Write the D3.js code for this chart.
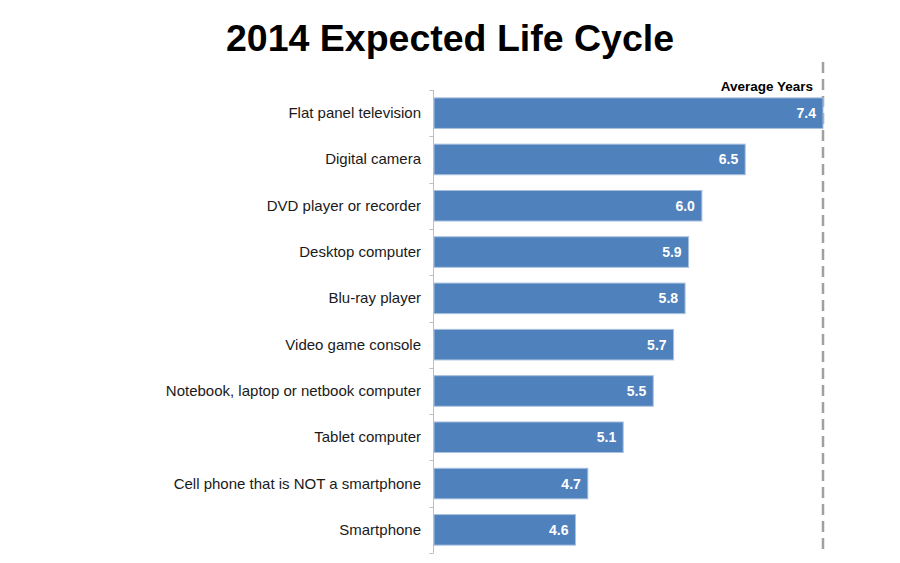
<!DOCTYPE html>
<html>
<head>
<meta charset="utf-8">
<script src="https://cdn.jsdelivr.net/npm/d3@7"></script>
<style>
  body { margin: 0; background: #fff; }
  text { font-family: "Liberation Sans", Arial, sans-serif; }
</style>
</head>
<body>
<script>
'use strict';

// chart data, top bar first
const categories = [
  "Flat panel television",
  "Digital camera",
  "DVD player or recorder",
  "Desktop computer",
  "Blu-ray player",
  "Video game console",
  "Notebook, laptop or netbook computer",
  "Tablet computer",
  "Cell phone that is NOT a smartphone",
  "Smartphone"
];
const avgYears = [7.40, 6.52, 6.03, 5.88, 5.84, 5.71, 5.48, 5.14, 4.74, 4.60];
const xDomain = [3, 7.4];

const svg = d3.select('body')
  .append('svg')
  .attr('width', 900)
  .attr('height', 563);

// title
svg.append('text')
  .attr('x', 450)
  .attr('y', 51)
  .attr('text-anchor', 'middle')
  .style('font-size', '37.5px')
  .style('font-weight', 'bold')
  .text('2014 Expected Life Cycle');

const xScale = d3.scaleLinear()
  .domain(xDomain)
  .range([434, 823]);

const yScale = d3.scaleBand()
  .domain(categories)
  .range([90, 553])
  .paddingInner(0.34)
  .paddingOuter(0.17);

// dashed reference line at the right edge
svg.append('line')
  .attr('x1', xScale(xDomain[1]))
  .attr('x2', xScale(xDomain[1]))
  .attr('y1', 62)
  .attr('y2', 550)
  .attr('stroke', '#a0a0a0')
  .attr('stroke-width', 2.5)
  .attr('stroke-dasharray', '11,6');

// bars
svg.selectAll('.bar')
  .data(categories)
  .enter()
  .append('rect')
  .attr('class', 'bar')
  .attr('x', xScale(xDomain[0]))
  .attr('y', d => yScale(d))
  .attr('width', (d, i) => xScale(avgYears[i]) - xScale(xDomain[0]))
  .attr('height', yScale.bandwidth())
  .attr('fill', '#4f81bd')
  .attr('stroke', '#a9c1e0')
  .attr('stroke-width', 1);

// value labels inside bars
svg.selectAll('.val')
  .data(categories)
  .enter()
  .append('text')
  .attr('class', 'val')
  .attr('x', (d, i) => xScale(avgYears[i]) - 7)
  .attr('y', d => yScale(d) + yScale.bandwidth() / 2 + 5)
  .attr('text-anchor', 'end')
  .attr('fill', '#fff')
  .style('font-size', '14px')
  .style('font-weight', 'bold')
  .text((d, i) => d3.format('.1f')(avgYears[i]));

// category axis with ticks between bands
const axisX = 433.5;
svg.append('line')
  .attr('x1', axisX).attr('x2', axisX)
  .attr('y1', 90).attr('y2', 553)
  .attr('stroke', '#bfbfbf');

const bounds = categories.map(d => yScale(d) - yScale.step() * yScale.paddingInner() / 2)
  .concat([553]);
svg.selectAll('.tick')
  .data(bounds)
  .enter()
  .append('line')
  .attr('x1', axisX - 4).attr('x2', axisX)
  .attr('y1', d => Math.round(d) + 0.5)
  .attr('y2', d => Math.round(d) + 0.5)
  .attr('stroke', '#bfbfbf');

svg.selectAll('.cat')
  .data(categories)
  .enter()
  .append('text')
  .attr('class', 'cat')
  .attr('x', 421)
  .attr('y', d => yScale(d) + yScale.bandwidth() / 2 + 5)
  .attr('text-anchor', 'end')
  .attr('fill', '#1a1a1a')
  .style('font-size', '15px')
  .text(d => d);

// series header
svg.append('text')
  .attr('x', 813)
  .attr('y', 91)
  .attr('text-anchor', 'end')
  .style('font-size', '13.5px')
  .style('font-weight', 'bold')
  .text('Average Years');
</script>
</body>
</html>
